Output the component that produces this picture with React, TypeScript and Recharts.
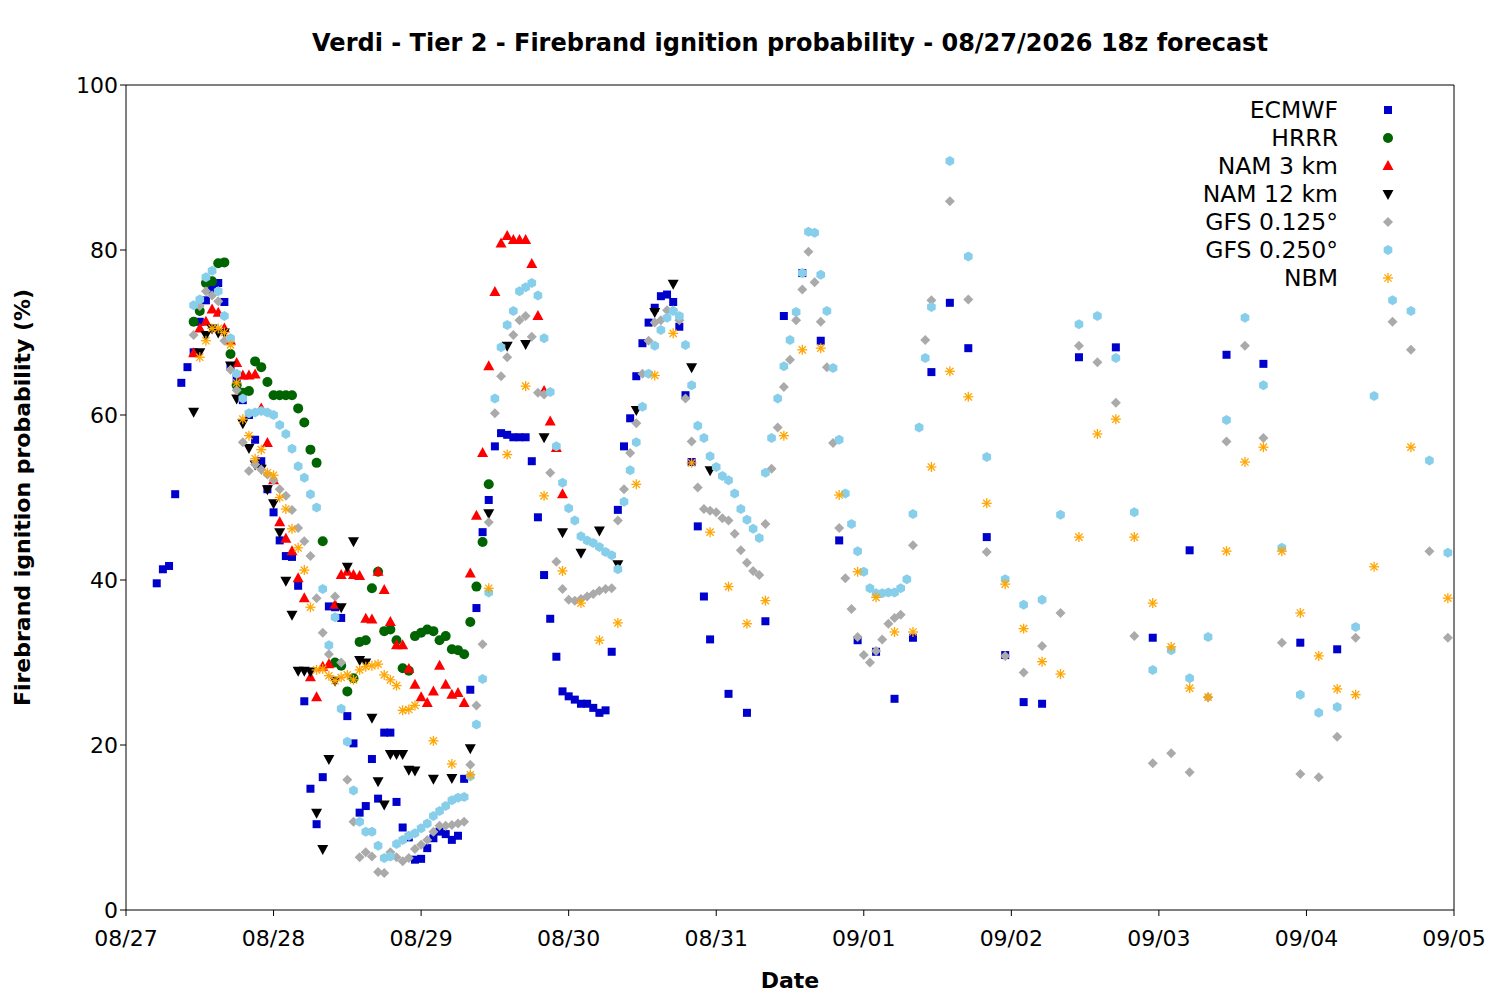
import React from "react";
import { ScatterChart, Scatter, XAxis, YAxis, Customized } from "recharts";

const dateLabels = ["08/27","08/28","08/29","08/30","08/31","09/01","09/02","09/03","09/04","09/05"];
const xTicks = [0,24,48,72,96,120,144,168,192,216];
const yTicks = [0,20,40,60,80,100];

type P = { x: number; y: number };
const seg = (start: number, step: number, values: number[]): P[] => values.map((v, i) => ({ x: start + i * step, y: v }));
const pts = (pairs: number[][]): P[] => pairs.map(([x, y]) => ({ x, y }));

const ecmwfHourly = [39.6,41.3,41.7,50.4,63.9,65.8,67.6,71.3,73.9,75.2,76,73.7,65.9,64.5,61.8,60,57,54.4,51,48.2,44.8,42.9,42.8,39.3,25.3,14.7,10.4,16.1,36.8,36.7,35.4,23.5,20.2,11.8,12.6,18.3,13.5,21.5,21.5,13.1,10,8.8,6.1,6.2,7.5,8.7,9.5,9.2,8.5,9,15.9,26.7,36.6,45.8,49.7,56.2,57.8,57.6,57.3,57.3,57.3,54.4,47.6,40.6,35.3,30.7,26.5,25.9,25.5,25,25,24.5,23.9,24.2,31.3,48.5,56.2,59.6,64.7,68.7,71.2,73,74.4,74.6,73.7,70.7,62.4,54.3,46.5,38,32.8];
const ecmwfTail = [[98,26.2],[101,23.9],[104,35],[107,72],[110,77.2],[113,69],[116,44.8],[119,32.7],[122,31.3],[125,25.6],[128,33],[131,65.2],[134,73.6],[137,68.1],[140,45.2],[143,30.9],[146,25.2],[149,25],[155,67],[161,68.2],[167,33],[173,43.6],[179,67.3],[185,66.2],[191,32.4],[197,31.6]];

const hrrrA = [71.3,72.6,76,76.2,78.4,78.5,67.4,63.6,62.7,62.9,66.5,65.8,64,62.4,62.4,62.4,62.4,60.8,59.1,55.8,54.2,44.7];
const hrrrB = [30,29.6,26.5,28.1,32.5,32.7,39,41,33.8,34,32.7,29.3,29,33.2,33.6,34,33.8,32.7,33.2,31.6,31.5,31,34.9,39.2,44.6,51.6];

const nam3 = [67.5,70.5,71.3,72.8,72.4,70.5,69,66.3,64.8,64.8,64.9,60.8,56.6,52.1,47,45,43.5,40.2,37.8,28.2,25.8,29.5,29.8,37,40.6,41,40.6,40.5,35.3,35.2,41,38.8,34.9,32.1,32.1,29.2,27.3,25.8,25.1,26.5,29.6,27.3,26.1,26.3,25.1,40.8,47.8,55.4,65.9,74.9,80.8,81.7,81.2,81.2,81.2,78.3,72,62.9,59.2,56,50.4];

const nam12Hourly = [60.4,67.6,69.7,70.5,70,70,66,62,59,56,54,53.5,51,49.3,45.8,39.9,35.8,29,29,28.9,11.8,7.4,18.3,27.8,36.7,41.6,44.7,30.3,30,23.3,15.6,12.8,18.9,18.9,18.9,17,16.9];
const nam12Tail = [[50,15.9],[53,16],[56,19.6],[59,48.1],[62,68.4],[65,68.6],[68,57.3],[71,45.8],[74,43.3],[77,46],[80,41.9],[83,60.6],[86,72.5],[89,75.9],[92,65.8],[95,53.3]];

const gfs125Hourly = [69.7,73.2,75,74.5,73.8,69,65.5,63,56.7,53.2,54,53.4,52.8,52.1,51,50.2,48.5,46.3,44.7,42.9,37.8,33.6,31,38,30,15.8,10.7,6.4,7,6.5,4.6,4.5,7,6.4,5.9,6.3,7.4,7.9,8.5,9.5,10.2,10.2,10.3,10.5,10.7,17.6,24.8,32.2,47,60.2,64.7,67,69.7,71.5,72,69.5,62.7,62.5,53,42.2,38.9,37.6,37.5,37.7,38,38.3,38.7,38.9,39,47.2,51,55.4,59,65,69,71.2,71.5,72.7,72.7,71.5,62,56.8,51.2,48.6,48.4,48.2,47.5,47.2,45.6,43.6,42.1,41.1,40.6,46.8,53.5,58.5,63.4,66.7,71.5,75.2,79.8,76.1,71.3,65.8,56.6,46.3,40.2,36.5,33.1,30.9,30,31.4,32.8,34.7,35.4,35.8];
const gfs125Tail = [[128,44.2],[130,69.1],[131,73.9],[134,85.9],[137,74],[140,43.4],[143,30.8],[146,28.8],[149,32],[152,36],[155,68.4],[158,66.4],[161,61.5],[164,33.2],[167,17.8],[170,19],[173,16.7],[176,25.8],[179,56.8],[182,68.4],[185,57.2],[188,32.4],[191,16.5],[194,16.1],[197,21],[200,33],[206,71.3],[209,67.9],[212,43.5],[215,33]];

const gfs250Hourly = [73.3,74,76.7,77.5,75,72,69.3,65,62,60.2,60.3,60.5,60.3,60,58.8,57.7,55.9,53.8,52.4,50.4,48.8,38.9,32.1,35.5,24.4,20.4,14.5,10.7,9.5,9.5,7.8,6.3,6.5,8,8.5,9,9.3,9.9,10.5,11.4,12,12.6,13.3,13.6,13.7,16.2,22.5,28,38.5,62,68.2,70.9,72.6,75,75.5,76,74.5,69.3,62.8,56.2,51.8,48.7,47.2,45.3,44.8,44.5,44,43.4,43,41.3,49.5,53.3,56.7,61,65,68.4,70.3,71.8,72.6,72,68.5,63.6,58.7,57.2,55,53.7,52.6,52.1,50.5,48.6,47.3,46.2,45.1,53,57.2,62,65.9,69.1,72.5,77.2,82.2,82.1,77,72.6,65.7,57,50.5,46.8,43.5,41,39,38.4,38.4,38.5,38.5,39,40.1,48,58.5,66.9,73.1];
const gfs250Tail = [[134,90.8],[137,79.2],[140,54.9],[143,40.1],[146,37],[149,37.6],[152,47.9],[155,71],[158,72],[161,66.9],[164,48.2],[167,29.1],[170,31.5],[173,28.1],[176,33.1],[179,59.4],[182,71.8],[185,63.6],[188,43.9],[191,26.1],[194,23.9],[197,24.6],[200,34.3],[203,62.3],[206,73.9],[209,72.6],[212,54.5],[215,43.3]];

const nbmHourly = [67,69,70.5,70.5,70,68.5,63.9,59.5,57.5,54.7,55.8,53,52.7,50,48.6,46.2,43.9,41.2,36.7,29.1,29.2,28.4,27.8,28.2,28.5,27.9,29.1,29.5,29.6,29.8,28.5,27.9,27.2,24.2,24.3,24.8];
const nbmTail = [[50,20.5],[53,17.7],[56,16.4],[59,39],[62,55.2],[65,63.5],[68,50.2],[71,41.1],[74,37.2],[77,32.7],[80,34.8],[83,51.6],[86,64.8],[89,69.9],[92,54.2],[95,45.8],[98,39.2],[101,34.7],[104,37.5],[107,57.5],[110,67.9],[113,68.1],[116,50.3],[119,41],[122,37.9],[125,33.7],[128,33.7],[131,53.7],[134,65.3],[137,62.2],[140,49.3],[143,39.5],[146,34.1],[149,30.1],[152,28.6],[155,45.2],[158,57.7],[161,59.5],[164,45.2],[167,37.2],[170,31.9],[173,26.9],[176,25.8],[179,43.5],[182,54.3],[185,56.1],[188,43.5],[191,36],[194,30.8],[197,26.8],[200,26.1],[203,41.6],[209,56.1],[215,37.8]];

const ecmwf = [...seg(5, 1, ecmwfHourly), ...pts(ecmwfTail)];
const hrrr = [...seg(11, 1, hrrrA), ...seg(34, 1, hrrrB)];
const nam3km = seg(11, 1, nam3);
const nam12km = [...seg(11, 1, nam12Hourly), ...pts(nam12Tail)];
const gfs125 = [...seg(11, 1, gfs125Hourly), ...pts(gfs125Tail)];
const gfs250 = [...seg(11, 1, gfs250Hourly), ...pts(gfs250Tail)];
const nbm = [...seg(12, 1, nbmHourly), ...pts(nbmTail)];

const C = { ecmwf: "#0000cd", hrrr: "#006400", nam3: "#ff0000", nam12: "#000000", g125: "#aaaaaa", g250: "#87ceeb", nbm: "#ffa500" };

const Sq = ({ cx, cy, c }: any) => <rect x={cx - 4} y={cy - 4} width={8} height={8} fill={c} />;
const Ci = ({ cx, cy, c }: any) => <circle cx={cx} cy={cy} r={5} fill={c} />;
const Up = ({ cx, cy, c }: any) => <polygon points={`${cx},${cy - 6} ${cx - 5.5},${cy + 4} ${cx + 5.5},${cy + 4}`} fill={c} />;
const Dn = ({ cx, cy, c }: any) => <polygon points={`${cx},${cy + 6} ${cx - 5.5},${cy - 4} ${cx + 5.5},${cy - 4}`} fill={c} />;
const Di = ({ cx, cy, c }: any) => <polygon points={`${cx},${cy - 5} ${cx + 5},${cy} ${cx},${cy + 5} ${cx - 5},${cy}`} fill={c} />;
const Hx = ({ cx, cy, c }: any) => <polygon points={[0,1,2,3,4,5].map(i => { const a = Math.PI / 6 + i * Math.PI / 3; return `${cx + 5 * Math.cos(a)},${cy + 5 * Math.sin(a)}`; }).join(" ")} fill={c} />;
const As = ({ cx, cy, c }: any) => (
  <g stroke={c} strokeWidth={1.3}>
    <line x1={cx - 5} y1={cy} x2={cx + 5} y2={cy} />
    <line x1={cx} y1={cy - 5} x2={cx} y2={cy + 5} />
    <line x1={cx - 3.6} y1={cy - 3.6} x2={cx + 3.6} y2={cy + 3.6} />
    <line x1={cx - 3.6} y1={cy + 3.6} x2={cx + 3.6} y2={cy - 3.6} />
  </g>
);

const series = [
  { name: "ECMWF", data: ecmwf, S: Sq, c: C.ecmwf },
  { name: "HRRR", data: hrrr, S: Ci, c: C.hrrr },
  { name: "NAM 3 km", data: nam3km, S: Up, c: C.nam3 },
  { name: "NAM 12 km", data: nam12km, S: Dn, c: C.nam12 },
  { name: "GFS 0.125°", data: gfs125, S: Di, c: C.g125 },
  { name: "GFS 0.250°", data: gfs250, S: Hx, c: C.g250 },
  { name: "NBM", data: nbm, S: As, c: C.nbm },
];

const font = "DejaVu Sans";
const tickStyle = { fontSize: 22, fill: "#000", fontFamily: font };

const Legend = () => (
  <g fontFamily={font} fontSize={23.5}>
    {series.map((s, i) => {
      const y = 102 + i * 28;
      const S = s.S;
      return (
        <g key={s.name}>
          <text x={1330} y={y + 8} textAnchor="end" fill="#000">{s.name}</text>
          <S cx={1380} cy={y} c={s.c} />
        </g>
      );
    })}
  </g>
);

export default function App() {
  return (
    <div style={{ width: 1500, height: 1000, position: "relative", background: "#fff" }}>
      <ScatterChart width={1500} height={1000} margin={{ top: 77, right: 54, bottom: 68, left: 58 }}>
        <XAxis xAxisId="b" type="number" dataKey="x" domain={[0, 216]} ticks={xTicks} allowDataOverflow
          tickFormatter={(v: number) => dateLabels[xTicks.indexOf(v)]} tick={tickStyle} stroke="#000" tickSize={6}
          tickMargin={14} label={{ value: "Date", position: "insideBottom", offset: -48, style: { fontSize: 22, fontWeight: "bold", fill: "#000", fontFamily: font } }} />
        <XAxis xAxisId="t" orientation="top" type="number" dataKey="x" domain={[0, 216]} ticks={xTicks} tick={false} mirror stroke="#000" tickSize={8} />
        <YAxis yAxisId="l" type="number" dataKey="y" domain={[0, 100]} ticks={yTicks} tick={tickStyle} stroke="#000" width={60} tickSize={6}
          label={{ value: "Firebrand ignition probability (%)", angle: -90, position: "insideLeft", offset: -44, dy: 0, style: { fontSize: 22, fontWeight: "bold", fill: "#000", fontFamily: font, textAnchor: "middle" } }} />
        <YAxis yAxisId="r" orientation="right" type="number" dataKey="y" domain={[0, 100]} ticks={yTicks} tick={false} mirror stroke="#000" tickSize={8} />
        {series.map(s => {
          const S = s.S;
          return <Scatter key={s.name} name={s.name} data={s.data} xAxisId="b" yAxisId="l" isAnimationActive={false}
            shape={(p: any) => <S cx={p.cx} cy={p.cy} c={s.c} />} />;
        })}
        <Customized component={() => (
          <g>
            <text x={782} y={43} textAnchor="middle" fontFamily={font} fontWeight="bold" fontSize={24} fill="#000">Verdi - Tier 2 - Firebrand ignition probability - 08/27/2026 18z forecast</text>
            <Legend />
          </g>
        )} />
      </ScatterChart>
    </div>
  );
}
